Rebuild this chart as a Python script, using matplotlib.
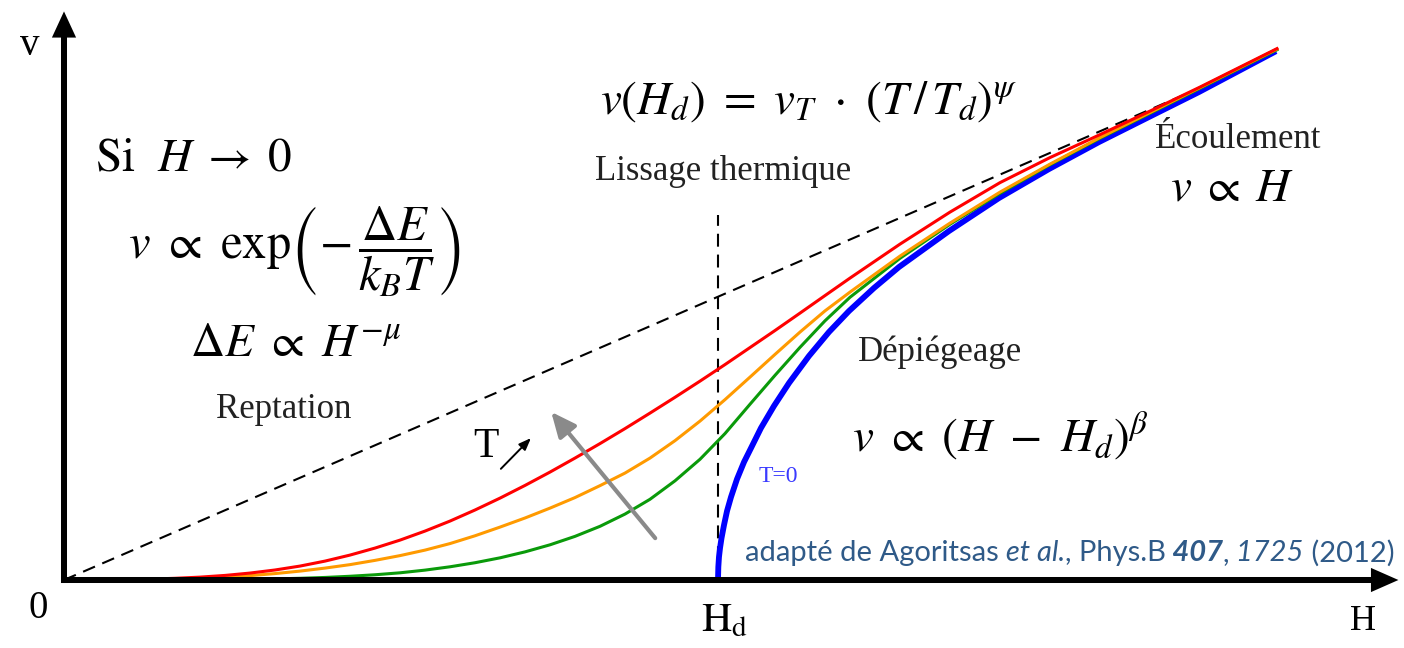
import numpy as np
import matplotlib; matplotlib.use("Agg")
import matplotlib.pyplot as plt
from matplotlib import transforms

plt.rcParams['mathtext.fontset'] = 'stix'

# schematic units: H_d = 1, same scale on both axes
H_D = 1.0

# thermal creep curves (increasing T: green -> orange -> red)
H_T = [0, 0.1315, 0.1697, 0.2080, 0.2462, 0.2844, 0.3226, 0.3609, 0.3991, 0.4373,
       0.4755, 0.5138, 0.5520, 0.5902, 0.6284, 0.6667, 0.7049, 0.7431, 0.7813, 0.8196,
       0.8578, 0.8960, 0.9343, 0.9725, 1.0107, 1.0489, 1.0872, 1.1254, 1.1636, 1.2018,
       1.2783, 1.3547, 1.4312, 1.5076, 1.5841, 1.6606, 1.7370, 1.8547]
v_red = [0, 0.0014, 0.0026, 0.0044, 0.0070, 0.0106, 0.0153, 0.0213, 0.0289, 0.0381,
         0.0488, 0.0610, 0.0748, 0.0901, 0.1070, 0.1252, 0.1446, 0.1650, 0.1864, 0.2086,
         0.2315, 0.2552, 0.2794, 0.3041, 0.3294, 0.3554, 0.3815, 0.4081, 0.4349, 0.4616,
         0.5136, 0.5625, 0.6076, 0.6459, 0.6810, 0.7170, 0.7537, 0.8125]
v_orange = [0, 0.0006, 0.0015, 0.0029, 0.0046, 0.0067, 0.0098, 0.0136, 0.0182, 0.0235,
            0.0300, 0.0373, 0.0457, 0.0557, 0.0676, 0.0809, 0.0948, 0.1099, 0.1260, 0.1443,
            0.1635, 0.1864, 0.2131, 0.2430, 0.2758, 0.3102, 0.3450, 0.3791, 0.4115, 0.4402,
            0.4953, 0.5457, 0.5931, 0.6359, 0.6765, 0.7147, 0.7529, 0.8118]
v_green = [0, 0, 0.0001, 0.0003, 0.0006, 0.0011, 0.0017, 0.0026, 0.0039, 0.0057,
           0.0080, 0.0110, 0.0151, 0.0202, 0.0264, 0.0339, 0.0430, 0.0538, 0.0667, 0.0821,
           0.1008, 0.1234, 0.1517, 0.1846, 0.2239, 0.2687, 0.3130, 0.3558, 0.3963, 0.4323,
           0.4919, 0.5439, 0.5913, 0.6349, 0.6754, 0.7136, 0.7518, 0.8107]

# T = 0 depinning curve, v ~ (H - H_d)^beta
H_0 = [1.0000, 1.0005, 1.0015, 1.0031, 1.0054, 1.0092, 1.0138, 1.0199, 1.0291, 1.0398,
       1.0505, 1.0657, 1.0856, 1.1086, 1.1391, 1.1697, 1.2003, 1.2385, 1.2768, 1.3532,
       1.4297, 1.5061, 1.5826, 1.6590, 1.7355, 1.8532]
v_0 = [0, 0.0199, 0.0352, 0.0489, 0.0642, 0.0841, 0.1055, 0.1269, 0.1544, 0.1804,
       0.2018, 0.2324, 0.2661, 0.3012, 0.3425, 0.3792, 0.4113, 0.4465, 0.4786, 0.5336,
       0.5841, 0.6284, 0.6697, 0.7080, 0.7462, 0.8086]

# flow asymptote v ~ H and the vertical marker at H_d
H_flow = [0, 1.78]
v_flow = [0, 0.771]
v_mark_top = 0.558

SERIF = 'Liberation Serif'
TXT = '#222222'

fig = plt.figure(figsize=(14.04, 6.48), dpi=100)
ax = fig.add_axes([0, 0, 1, 1])
ax.set_xlim(-64 / 654, 1340 / 654)
ax.set_ylim(-68 / 654, 580 / 654)
ax.axis('off')

dash = dict(color='k', lw=1.5, dashes=(6.2, 3.8))
ax.plot(H_flow, v_flow, **dash, zorder=2)
ax.plot([H_D, H_D], [0, v_mark_top], **dash, zorder=2)

ax.plot(H_0, v_0, color='#0000ff', lw=4.2, solid_capstyle='butt',
        solid_joinstyle='round', zorder=3)
for v, c, z in [(v_green, '#0a9a0a', 4), (v_orange, '#ff9a00', 5), (v_red, '#ff0000', 6)]:
    ax.plot(H_T, v, color=c, lw=2.2, solid_joinstyle='round', zorder=z)

# axes with arrow heads
ax.arrow(0, -0.0046, 0, 0.874, width=0.0092, head_width=0.037, head_length=0.040,
         length_includes_head=True, color='k', lw=0, zorder=8)
ax.arrow(-0.0046, 0, 2.045, 0, width=0.0092, head_width=0.037, head_length=0.042,
         length_includes_head=True, color='k', lw=0, zorder=8)

# temperature arrow
ax.annotate('', xy=(0.745, 0.257), xytext=(0.904, 0.064),
            arrowprops=dict(arrowstyle='-|>,head_length=1.0,head_width=0.45',
                            color='#8a8a8a', lw=3, mutation_scale=15,
                            shrinkA=0, shrinkB=0), zorder=9)
ax.annotate('', xy=(0.714, 0.217), xytext=(0.668, 0.170),
            arrowprops=dict(arrowstyle='-|>,head_length=0.9,head_width=0.35',
                            color='k', lw=1.4, mutation_scale=8,
                            shrinkA=0, shrinkB=0), zorder=9)
ax.text(0.645, 0.203, 'T', fontsize=30, family=SERIF, ha='center', va='center')

# axis labels
ax.text(-0.052, 0.818, 'v', fontsize=28, family=SERIF, ha='center', va='center')
ax.text(-0.040, -0.043, '0', fontsize=28, family=SERIF, ha='center', va='center')
ax.text(1.986, -0.064, 'H', fontsize=26, family=SERIF, ha='center', va='center')
ax.text(1.01, -0.06, r'$\mathrm{H}_\mathrm{d}$', fontsize=30, ha='center', va='center')

# regime labels and formulas
ax.text(0.047, 0.645, r'$\mathrm{Si}\ \ H\;\rightarrow\;0$', fontsize=34,
        ha='left', va='center')
ax.text(0.353, 0.502,
        r'$v\ \propto\ \mathrm{exp}\left(-\,\dfrac{\Delta E}{k_B T}\right)$',
        fontsize=35, ha='center', va='center')
ax.text(0.355, 0.362, r'$\Delta E\ \propto\ H^{-\mu}$', fontsize=34, ha='center', va='center')
ax.text(0.336, 0.260, 'Reptation', fontsize=25, family=SERIF, ha='center', va='center',
        color=TXT)

ax.text(1.138, 0.731, r'$v(H_d)\ =\ v_T\ \cdot\ (T\,/\,T_d)^{\psi}$', fontsize=34,
        ha='center', va='center')
ax.text(1.008, 0.624, 'Lissage thermique', fontsize=25, family=SERIF,
        ha='center', va='center', color=TXT)

ax.text(1.795, 0.673, 'Écoulement', fontsize=25, family=SERIF, ha='center', va='center',
        color=TXT)
ax.text(1.786, 0.599, r'$v\;\propto\;H$', fontsize=34, ha='center', va='center')

ax.text(1.339, 0.349, 'Dépiégeage', fontsize=25, family=SERIF, ha='center', va='center',
        color=TXT)
ax.text(1.431, 0.219, r'$v\ \propto\ (H\ -\ H_d)^{\beta}$', fontsize=34,
        ha='center', va='center')
ax.text(1.092, 0.159, 'T=0', fontsize=17, family=SERIF, ha='center', va='center',
        color='#3a3aff')

# source line with mixed styles
parts = [('adapté de Agoritsas', {}),
         (' et al.', {'style': 'italic'}),
         (', Phys.B', {}),
         (' 407', {'style': 'italic', 'weight': 'bold'}),
         (',', {}),
         (' 1725', {'style': 'italic'}),
         (' (2012)', {})]
renderer = fig.canvas.get_renderer()
tr = ax.transData
x0, y0 = 1.041, 0.041
for s, st in parts:
    t = ax.text(x0, y0, s, transform=tr, fontsize=21, family='Lato', color='#2f5a88',
                va='center', ha='left', **st)
    t.draw(renderer)
    ex = t.get_window_extent(renderer)
    tr = transforms.offset_copy(t.get_transform(), x=ex.width, units='dots')

fig.savefig('out.png', dpi=100)
